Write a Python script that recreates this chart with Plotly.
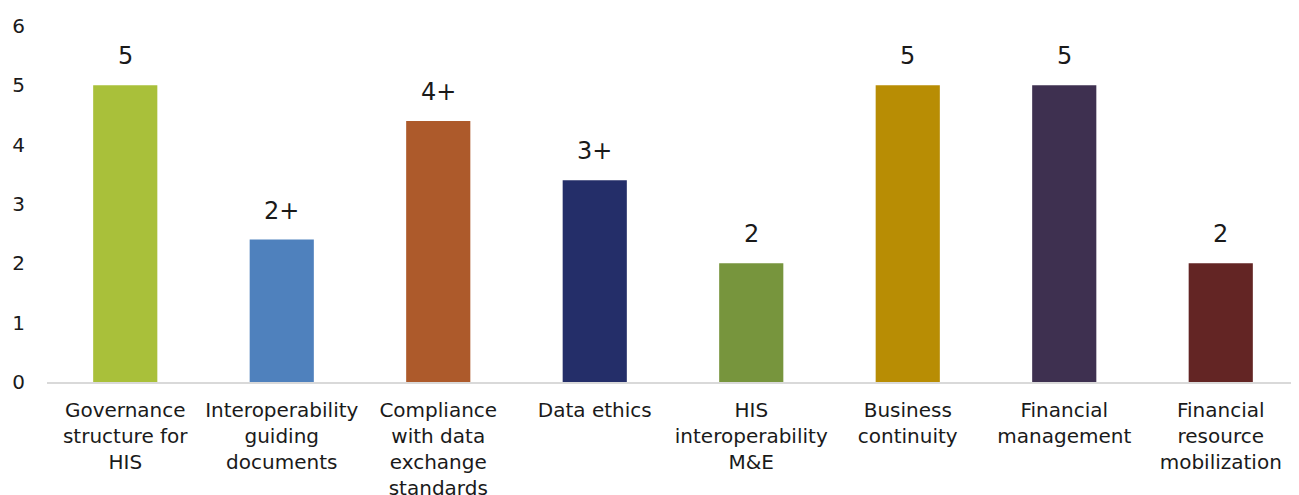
import plotly.graph_objects as go

categories = [
    "Governance<br>structure for<br>HIS",
    "Interoperability<br>guiding<br>documents",
    "Compliance<br>with data<br>exchange<br>standards",
    "Data ethics",
    "HIS<br>interoperability<br>M&E",
    "Business<br>continuity",
    "Financial<br>management",
    "Financial<br>resource<br>mobilization",
]
values = [5, 2.4, 4.4, 3.4, 2, 5, 5, 2]
value_labels = ["5", "2+", "4+", "3+", "2", "5", "5", "2"]
colors = ["#A9C03A", "#4F81BD", "#AD5A2B", "#242E69", "#77953D", "#B88D04", "#3E3050", "#632524"]
y_ticks = [0, 1, 2, 3, 4, 5, 6]

FONT = "DejaVu Sans"

fig = go.Figure(go.Bar(x=categories, y=values, marker_color=colors, marker_line_width=0))

for c, v, t in zip(categories, values, value_labels):
    fig.add_annotation(x=c, y=v, text=t, showarrow=False, yanchor="bottom", yshift=13,
                       font=dict(family=FONT, size=24, color="#1a1a1a"))

fig.update_layout(
    width=1299, height=495,
    margin=dict(l=39, r=8, t=18, b=121),
    plot_bgcolor="white", paper_bgcolor="white",
    bargap=0.59,
    showlegend=False,
    font=dict(family=FONT, size=20, color="#1a1a1a"),
)
fig.update_xaxes(showline=True, linecolor="#d9d9d9", linewidth=2, showgrid=False, automargin=False,
                 ticks="", tickfont=dict(family=FONT, size=20, color="#1a1a1a"), tickangle=0,
                 ticklabelstandoff=9)
fig.update_yaxes(range=[0, 6], tickvals=y_ticks, showgrid=False, zeroline=False, showline=False,
                 automargin=False,
                 ticks="", tickfont=dict(family=FONT, size=20, color="#1a1a1a"), ticklabelstandoff=21)

fig.write_html("out.html")
